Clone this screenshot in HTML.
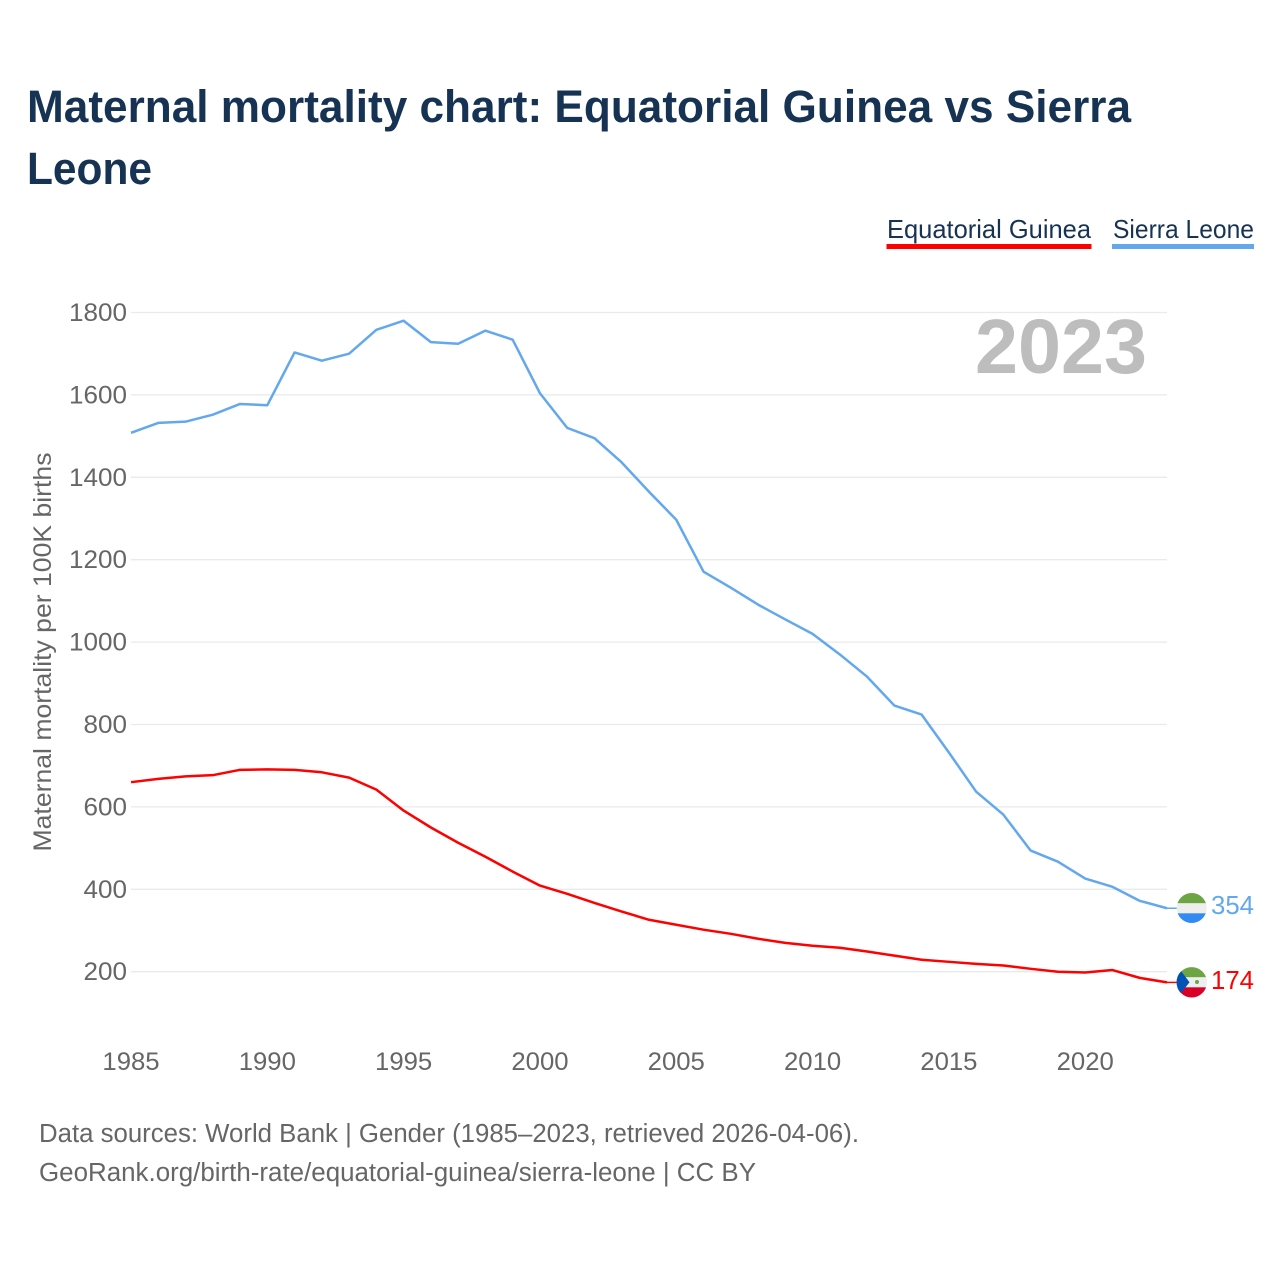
<!DOCTYPE html>
<html lang="en">
<head>
<meta charset="utf-8">
<title>Maternal mortality chart: Equatorial Guinea vs Sierra Leone</title>
<style>
html,body{margin:0;padding:0;background:#fff;}
svg{display:block;font-family:"Liberation Sans",sans-serif;}
</style>
</head>
<body>
<svg id="chart" xmlns="http://www.w3.org/2000/svg" width="1280" height="1280" viewBox="0 0 1280 1280">
  <rect x="0" y="0" width="1280" height="1280" fill="#ffffff"/>
  <g fill="#173353" font-weight="700" font-size="45">
    <text x="27" y="122" textLength="1104" lengthAdjust="spacingAndGlyphs">Maternal mortality chart: Equatorial Guinea vs Sierra</text>
    <text x="27" y="184" textLength="125" lengthAdjust="spacingAndGlyphs">Leone</text>
  </g>
  <g>
    <text x="887" y="238" font-size="26" fill="#173353" textLength="204" lengthAdjust="spacingAndGlyphs">Equatorial Guinea</text>
    <rect x="886.5" y="244" width="205" height="5" fill="#ff0000"/>
  </g>
  <g>
    <text x="1113" y="238" font-size="26" fill="#173353" textLength="141" lengthAdjust="spacingAndGlyphs">Sierra Leone</text>
    <rect x="1112" y="244" width="142" height="5" fill="#63a8ed"/>
  </g>
  <g id="grid"></g>
  <g id="yticks"></g>
  <g id="xticks"></g>
  <text transform="translate(51,652) rotate(-90)" text-anchor="middle" font-size="25" fill="#666666" textLength="399" lengthAdjust="spacingAndGlyphs">Maternal mortality per 100K births</text>
  <text x="975" y="373" font-size="77" font-weight="700" fill="#bdbdbd" textLength="172" lengthAdjust="spacingAndGlyphs">2023</text>
  <g id="series"></g>
  <defs>
    <clipPath id="clip-sl"><circle cx="1191.7" cy="908" r="15"/></clipPath>
    <clipPath id="clip-eg"><circle cx="1191.7" cy="982.3" r="15.2"/></clipPath>
  </defs>
  <g id="flag-sl" clip-path="url(#clip-sl)">
    <rect x="1176" y="892" width="31" height="11.3" fill="#6da544"/>
    <rect x="1176" y="903.3" width="31" height="10" fill="#eeeeee"/>
    <rect x="1176" y="913.3" width="31" height="11" fill="#338af3"/>
  </g>
  <g id="flag-eg" clip-path="url(#clip-eg)">
    <rect x="1176" y="966" width="31" height="11.3" fill="#6da544"/>
    <rect x="1176" y="977.3" width="31" height="10" fill="#eeeeee"/>
    <rect x="1176" y="987.3" width="31" height="11" fill="#d80027"/>
    <polygon points="1176,966 1181,971 1189.5,982.3 1181,993 1176,998" fill="#0052b4"/>
    <circle cx="1197" cy="982" r="2" fill="#6da544"/>
  </g>
  <text id="label-sl" x="1211" y="914" font-size="26" fill="#63a8ed" textLength="43" lengthAdjust="spacingAndGlyphs">354</text>
  <text id="label-eg" x="1211" y="989" font-size="26" fill="#ff0000" textLength="43" lengthAdjust="spacingAndGlyphs">174</text>
  <g font-size="25.5" fill="#666666">
    <text x="39" y="1142" textLength="820" lengthAdjust="spacingAndGlyphs">Data sources: World Bank | Gender (1985–2023, retrieved 2026-04-06).</text>
    <text x="39" y="1181" textLength="717" lengthAdjust="spacingAndGlyphs">GeoRank.org/birth-rate/equatorial-guinea/sierra-leone | CC BY</text>
  </g>
</svg>
<script>
const years = [1985,1986,1987,1988,1989,1990,1991,1992,1993,1994,1995,1996,1997,1998,1999,2000,2001,2002,2003,2004,2005,2006,2007,2008,2009,2010,2011,2012,2013,2014,2015,2016,2017,2018,2019,2020,2021,2022,2023];
const sierraLeone = [1508,1532,1535,1552,1578,1575,1703,1683,1700,1758,1780,1728,1724,1756,1734,1604,1520,1495,1436,1365,1297,1171,1132,1091,1055,1020,970,916,846,824,732,637,581,494,467,426,406,372,354];
const equatorialGuinea = [660,668,674,677,690,691,690,684,671,642,591,550,513,479,443,409,389,367,346,326,314,302,292,280,270,263,258,249,239,229,224,219,215,207,200,198,204,185,174];
const yTickValues = [200,400,600,800,1000,1200,1400,1600,1800];
const xTickValues = [1985,1990,1995,2000,2005,2010,2015,2020];

const NS = 'http://www.w3.org/2000/svg';
function xScale(year) { return 131 + (year - 1985) * (1167 - 131) / 38; }
function yScale(value) { return 971.7 - (value - 200) * (971.7 - 312.5) / 1600; }

function make(tag, attrs, parent) {
  const el = document.createElementNS(NS, tag);
  for (const key in attrs) el.setAttribute(key, attrs[key]);
  parent.appendChild(el);
  return el;
}

const gridGroup = document.getElementById('grid');
const yTickGroup = document.getElementById('yticks');
const xTickGroup = document.getElementById('xticks');
const seriesGroup = document.getElementById('series');

yTickValues.forEach(function (v) {
  const line = make('line', {x1: 131, x2: 1167, y1: yScale(v), y2: yScale(v), stroke: '#eaeaea', 'stroke-width': 1.3}, gridGroup);
  
  
  const text = String(v);
  const label = make('text', {x: 127, y: yScale(v) + 8.5, 'text-anchor': 'end', 'font-size': 25, fill: '#666666', textLength: text.length * 14.5, lengthAdjust: 'spacingAndGlyphs'}, yTickGroup);
  label.textContent = text;
  
  
});

xTickValues.forEach(function (y) {
  const text = String(y);
  const label = make('text', {x: xScale(y), y: 1070, 'text-anchor': 'middle', 'font-size': 25, fill: '#666666', textLength: text.length * 14.3, lengthAdjust: 'spacingAndGlyphs'}, xTickGroup);
  label.textContent = text;
  
  
});

function drawSeries(values, color, name) {
  const pts = values.map(function (v, i) { return xScale(years[i]).toFixed(2) + ',' + yScale(v).toFixed(2); }).join(' ');
  const line = make('polyline', {points: pts, fill: 'none', stroke: color, 'stroke-width': 2.5, 'stroke-linejoin': 'round'}, seriesGroup);
  
  
  const lastY = yScale(values[values.length - 1]);
  const tail = make('line', {x1: xScale(years[years.length - 1]), x2: 1178, y1: lastY, y2: lastY, stroke: color, 'stroke-width': 1.5}, seriesGroup);
  
  
}
drawSeries(sierraLeone, '#63a8ed', 'sierra-leone');
drawSeries(equatorialGuinea, '#ff0000', 'equatorial-guinea');

document.getElementById('label-sl').textContent = String(sierraLeone[sierraLeone.length - 1]);
document.getElementById('label-eg').textContent = String(equatorialGuinea[equatorialGuinea.length - 1]);
</script>
</body>
</html>
